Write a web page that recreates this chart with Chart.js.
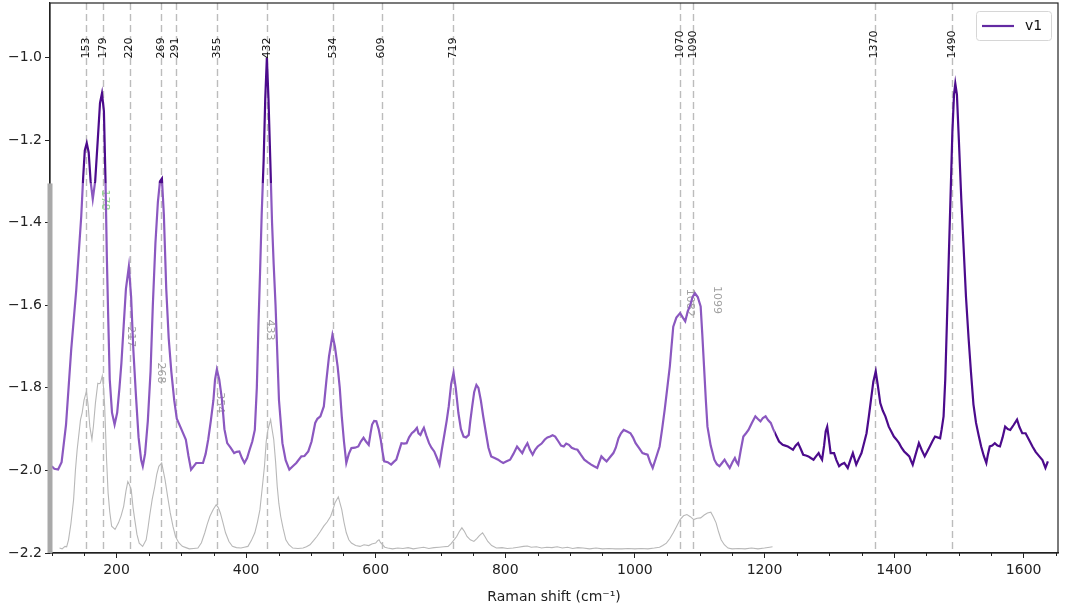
<!DOCTYPE html>
<html>
<head>
<meta charset="utf-8">
<script src="https://cdn.jsdelivr.net/npm/chart.js@4.4.1/dist/chart.umd.min.js"></script>
<style>
  html, body { margin: 0; background: #fff; }
  #wrap { width: 1076px; height: 614px; }
</style>
</head>
<body>
<div id="wrap"><canvas id="chart"></canvas></div>
<script>
// measured spectrum v1 (Raman shift, intensity)
const shiftV1 = [
  100, 104, 109.8, 115.2, 122, 130, 137.8, 145.5, 148.5, 151, 154, 157, 160, 163.3, 167, 171, 174.5, 177.5, 180.5, 183,
  185, 187, 189.5, 193, 197, 201, 204.5, 207.5, 211, 214.5, 219, 222.5, 226, 230, 234, 238, 240.5, 244, 248.3, 252.5,
  256, 260, 263.8, 267, 270, 273, 276.7, 280.5, 284.5, 289, 293, 300, 306.9, 311, 315, 322.9, 333.4, 337.5, 341.5, 345.5,
  349.5, 352, 354.8, 358.5, 362.8, 366.5, 370.8, 376, 381.5, 385.5, 389.5, 393.5, 397.4, 401.5, 405.4, 409.5, 413.4, 416.5, 419, 421.5,
  424, 427, 429.5, 432, 434.5, 437.3, 440, 442.5, 445.4, 450.7, 456, 461, 466.7, 472, 477.4, 485.3, 490, 495.9, 501, 506.6,
  510, 514.6, 519.9, 524, 527.9, 533.2, 537, 541.2, 544.5, 547.6, 551, 554.6, 558.5, 562.5, 568, 573.1, 577, 581.2, 585, 589.2,
  592, 594.4, 597.5, 600.9, 604.5, 607.7, 610.5, 613.1, 618.5, 623.8, 627.5, 631.8, 635.5, 639.7, 643.5, 647.7, 651.5, 655.7, 659.5, 663.6,
  666, 669, 671.5, 674.3, 678, 682.3, 686, 690.3, 694.5, 698.4, 702, 706.3, 709.5, 712.7, 716.5, 720.1, 723.5, 727.6, 731.5, 735.6,
  739.5, 743.6, 746, 748.9, 752, 755.4, 758.5, 762.2, 766, 770.2, 774, 778.2, 783.5, 788.9, 792.5, 796.8, 802, 807.4, 812.5, 818.1,
  822, 826.2, 830, 834.1, 838, 842.2, 846, 850, 856, 861, 865, 869.2, 873, 877, 882, 886, 890.2, 894, 898.2, 902.5,
  907, 911.4, 916.5, 921.9, 927, 932.5, 937, 941.9, 945, 948.3, 952, 956.3, 961.5, 966.8, 970.5, 974.7, 978.5, 982.7, 988, 993.2,
  997, 1001.1, 1006, 1011.7, 1015.5, 1019.6, 1023.5, 1027.5, 1032.5, 1038.1, 1042, 1046, 1050, 1053.9, 1056.5, 1059.2, 1064, 1069.8, 1074, 1077.7,
  1081.5, 1085.6, 1089, 1092.7, 1097, 1101.5, 1104, 1106.7, 1109.5, 1112, 1117, 1122.6, 1126.5, 1130.5, 1134.5, 1138.4, 1142.5, 1146.3, 1150.5, 1154.3,
  1157, 1159.5, 1163.5, 1167.4, 1171.5, 1175.3, 1180.5, 1185.9, 1189.5, 1193.8, 1197.5, 1201.7, 1205.5, 1209.7, 1213.5, 1217.6, 1222.5, 1228.1, 1232, 1236.1,
  1240, 1244, 1248, 1251.9, 1256, 1259.8, 1264, 1267.8, 1271.5, 1275.7, 1279.5, 1283.6, 1286, 1288.9, 1292, 1294.5, 1296.8, 1299, 1302.1, 1307.4,
  1311, 1315.2, 1319, 1323.2, 1328.5, 1332.5, 1336.4, 1339, 1341.6, 1345.5, 1349.7, 1353.5, 1357.5, 1361, 1364.3, 1368, 1371.7, 1375, 1378.7, 1382.5,
  1386.6, 1391.8, 1395.5, 1399.7, 1403.5, 1407.7, 1411.5, 1415.6, 1419.5, 1423.5, 1426, 1428.8, 1433.5, 1438.3, 1442.5, 1447.3, 1451, 1455.2, 1459, 1463.2,
  1467, 1471.1, 1473.5, 1476.4, 1479, 1481.6, 1484.5, 1487, 1490, 1492.5, 1494.5, 1497, 1500, 1503.8, 1507, 1511, 1515, 1518.6, 1522.5, 1526.5,
  1530.5, 1534.4, 1538.5, 1542.4, 1545, 1547.7, 1551.5, 1555.5, 1559.5, 1563.4, 1567.5, 1571.4, 1575.5, 1579.3, 1584.5, 1589.8, 1593.5, 1597.8, 1603, 1608,
  1613.6, 1618.5, 1624.2, 1629, 1633.6, 1637.4
];
const intensityV1 = [
  -1.99, -1.996, -1.998, -1.98, -1.89, -1.708, -1.563, -1.385, -1.29, -1.225, -1.207, -1.23, -1.3, -1.343, -1.3, -1.2, -1.11, -1.087, -1.13, -1.3,
  -1.48, -1.62, -1.78, -1.86, -1.889, -1.86, -1.8, -1.74, -1.65, -1.56, -1.506, -1.58, -1.71, -1.82, -1.92, -1.975, -1.99, -1.96, -1.88, -1.76,
  -1.6, -1.45, -1.35, -1.3, -1.293, -1.38, -1.56, -1.68, -1.76, -1.83, -1.875, -1.9, -1.925, -1.965, -1.998, -1.982, -1.982, -1.96, -1.925, -1.88,
  -1.83, -1.78, -1.756, -1.78, -1.83, -1.9, -1.934, -1.945, -1.958, -1.955, -1.954, -1.97, -1.982, -1.97, -1.95, -1.93, -1.902, -1.8, -1.65, -1.52,
  -1.38, -1.25, -1.1, -1.0, -1.1, -1.25, -1.4, -1.5, -1.6, -1.83, -1.934, -1.975, -1.998, -1.99, -1.982, -1.966, -1.965, -1.954, -1.93, -1.885,
  -1.875, -1.869, -1.845, -1.78, -1.724, -1.672, -1.7, -1.748, -1.8, -1.869, -1.93, -1.982, -1.96, -1.946, -1.945, -1.942, -1.93, -1.921, -1.93, -1.938,
  -1.91, -1.889, -1.88, -1.881, -1.9, -1.925, -1.955, -1.978, -1.98, -1.986, -1.98, -1.974, -1.955, -1.934, -1.935, -1.934, -1.92, -1.91, -1.905, -1.897,
  -1.91, -1.914, -1.905, -1.897, -1.915, -1.934, -1.945, -1.954, -1.97, -1.986, -1.95, -1.91, -1.88, -1.845, -1.79, -1.764, -1.8, -1.861, -1.9, -1.918,
  -1.92, -1.914, -1.88, -1.845, -1.81, -1.793, -1.8, -1.83, -1.87, -1.91, -1.945, -1.966, -1.97, -1.974, -1.978, -1.982, -1.978, -1.974, -1.96, -1.942,
  -1.95, -1.958, -1.945, -1.934, -1.95, -1.962, -1.95, -1.942, -1.935, -1.925, -1.92, -1.918, -1.915, -1.918, -1.93, -1.94, -1.942, -1.935, -1.938, -1.945,
  -1.948, -1.95, -1.962, -1.974, -1.98, -1.986, -1.99, -1.994, -1.98, -1.966, -1.972, -1.978, -1.968, -1.958, -1.945, -1.922, -1.91, -1.902, -1.906, -1.91,
  -1.92, -1.934, -1.945, -1.958, -1.96, -1.962, -1.98, -1.994, -1.97, -1.942, -1.9, -1.853, -1.8, -1.748, -1.7, -1.652, -1.63, -1.619, -1.63, -1.639,
  -1.615, -1.599, -1.58, -1.571, -1.58, -1.603, -1.67, -1.748, -1.83, -1.894, -1.94, -1.974, -1.985, -1.99, -1.982, -1.974, -1.985, -1.994, -1.98, -1.97,
  -1.98, -1.986, -1.95, -1.918, -1.91, -1.902, -1.885, -1.869, -1.875, -1.881, -1.873, -1.869, -1.878, -1.885, -1.9, -1.914, -1.93, -1.938, -1.94, -1.942,
  -1.946, -1.95, -1.94, -1.934, -1.948, -1.962, -1.964, -1.966, -1.97, -1.974, -1.966, -1.958, -1.966, -1.974, -1.94, -1.905, -1.894, -1.92, -1.958, -1.958,
  -1.975, -1.99, -1.985, -1.982, -1.994, -1.975, -1.958, -1.972, -1.986, -1.972, -1.958, -1.935, -1.91, -1.87, -1.83, -1.785, -1.76, -1.795, -1.837, -1.855,
  -1.869, -1.894, -1.905, -1.918, -1.925, -1.934, -1.945, -1.954, -1.96, -1.966, -1.976, -1.986, -1.96, -1.934, -1.95, -1.966, -1.955, -1.942, -1.93, -1.918,
  -1.92, -1.922, -1.9, -1.869, -1.78, -1.64, -1.48, -1.345, -1.18, -1.09, -1.063, -1.09, -1.2, -1.345, -1.45, -1.58, -1.68, -1.76, -1.84, -1.885,
  -1.915, -1.942, -1.965, -1.982, -1.96, -1.942, -1.94, -1.934, -1.94, -1.942, -1.92, -1.894, -1.9, -1.902, -1.89, -1.877, -1.895, -1.91, -1.91, -1.925,
  -1.942, -1.955, -1.966, -1.975, -1.994, -1.978
];

// reference spectrum (grey, ends at ~1212)
const shiftRef = [
  112, 116, 120.5, 123, 125.9, 129.5, 133.7, 136.5, 139.2, 144.4, 147, 149.8, 153.5, 156, 158.8, 162, 164.5, 167.4, 171.1, 173,
  174.8, 176.5, 178, 180, 181.7, 184.5, 187, 189.5, 192.4, 197.7, 203, 207, 211, 214.5, 217.4, 220, 222.7, 225.5, 228.1, 231.5,
  235, 240.3, 245.7, 248.5, 251, 255, 259, 262, 265.3, 269.7, 272, 274.9, 279, 282.9, 287, 291, 296, 301.6, 307, 312.3,
  319, 325.6, 331, 336.2, 340, 344.1, 349, 353.8, 357, 360.2, 364, 368.2, 373.5, 378.8, 385, 392.1, 397, 402.8, 408, 413.4,
  417.5, 421.3, 425, 428.3, 431, 433.6, 437.8, 440, 442.6, 445.5, 448, 450.5, 453.3, 457, 461.3, 466, 472, 480, 487.9, 493,
  498.5, 504, 509.2, 514.5, 519.8, 525, 530.5, 534, 537, 542.3, 545, 547.6, 551, 554.6, 558.5, 562.5, 569, 575.8, 582, 589.2,
  594, 599.9, 603, 605.1, 607.5, 610.5, 614, 618.4, 626, 634, 642, 650, 658, 666, 674, 682, 690, 698, 705, 711.7,
  716, 720, 725, 729, 733, 737, 740.9, 746, 751.5, 756, 760, 764.9, 768.5, 773, 779, 786.2, 795, 803, 812, 820,
  828, 834.1, 840, 848, 856, 864, 872, 880, 888, 896, 904, 912, 920, 930, 940, 950, 960, 970, 980, 990,
  1000, 1010, 1020, 1030, 1038, 1043, 1048.6, 1054, 1059.2, 1064.5, 1069.8, 1075, 1080.3, 1085.5, 1090.8, 1096, 1101.5, 1107, 1112, 1117.2,
  1121, 1125.3, 1129, 1133.1, 1138, 1143.7, 1150, 1160, 1170, 1180, 1190, 1200, 1208, 1212.4
];
const intensityRef = [
  -2.188, -2.19, -2.184, -2.185, -2.168, -2.13, -2.071, -2.0, -1.95, -1.877, -1.86, -1.83, -1.809, -1.84, -1.894, -1.925, -1.89, -1.837, -1.789, -1.79,
  -1.789, -1.78, -1.771, -1.8, -1.845, -1.97, -2.055, -2.1, -2.135, -2.143, -2.127, -2.11, -2.087, -2.05, -2.027, -2.035, -2.047, -2.09, -2.119, -2.155,
  -2.176, -2.184, -2.168, -2.14, -2.111, -2.07, -2.039, -2.01, -1.99, -1.982, -2.0, -2.023, -2.065, -2.103, -2.135, -2.16, -2.175, -2.184, -2.187, -2.19,
  -2.189, -2.188, -2.175, -2.151, -2.13, -2.111, -2.095, -2.083, -2.09, -2.103, -2.125, -2.151, -2.172, -2.184, -2.187, -2.188, -2.186, -2.184, -2.17, -2.151,
  -2.125, -2.095, -2.04, -1.99, -1.93, -1.902, -1.877, -1.9, -1.925, -1.98, -2.039, -2.08, -2.111, -2.14, -2.168, -2.18, -2.188, -2.189, -2.188, -2.185,
  -2.18, -2.17, -2.16, -2.148, -2.135, -2.125, -2.111, -2.095, -2.079, -2.064, -2.08, -2.095, -2.125, -2.151, -2.168, -2.176, -2.182, -2.184, -2.18, -2.182,
  -2.178, -2.176, -2.17, -2.168, -2.175, -2.18, -2.186, -2.188, -2.19, -2.188, -2.189, -2.187, -2.19, -2.188, -2.186, -2.189, -2.187, -2.186, -2.185, -2.184,
  -2.178, -2.17, -2.16, -2.148, -2.139, -2.148, -2.16, -2.168, -2.172, -2.165, -2.158, -2.151, -2.16, -2.172, -2.182, -2.188, -2.187, -2.189, -2.188, -2.186,
  -2.184, -2.183, -2.186, -2.185, -2.188, -2.186, -2.187, -2.185, -2.188, -2.186, -2.189, -2.187, -2.188, -2.19, -2.188, -2.19, -2.189, -2.19, -2.19, -2.189,
  -2.19, -2.189, -2.19, -2.188, -2.186, -2.182, -2.176, -2.165, -2.151, -2.135, -2.119, -2.11, -2.107, -2.112, -2.119, -2.116, -2.115, -2.108, -2.103, -2.101,
  -2.112, -2.127, -2.148, -2.168, -2.18, -2.188, -2.19, -2.189, -2.19, -2.188, -2.19, -2.188, -2.186, -2.185
];

// marked peaks (dashed lines + labels on top)
const peakMarks = [153, 179, 220, 269, 291, 355, 432, 534, 609, 719, 1070, 1090, 1370, 1490];
// grey labels of the reference spectrum
const refPeakText = ['178', '217', '268', '354', '433', '1082', '1099'];
const refPeakX = [181.5, 222.7, 269, 359, 436, 1085, 1126];
const refPeakY = [-1.345, -1.676, -1.764, -1.836, -1.66, -1.594, -1.587];

const xTicks = [200, 400, 600, 800, 1000, 1200, 1400, 1600];
const yTicks = [-2.2, -2.0, -1.8, -1.6, -1.4, -1.2, -1.0];

const DARK = '#4c0b8c';
const LIGHT = '#8b58c0';
const FONT = "'DejaVu Sans', sans-serif";
const overlay = { xMax: 1216, yMax: -1.305 };

const toPts = (xs, ys) => xs.map((x, i) => ({ x: x, y: ys[i] }));

function overlayRect(chart) {
  const a = chart.chartArea, sx = chart.scales.x, sy = chart.scales.y;
  const top = sy.getPixelForValue(overlay.yMax);
  const right = sx.getPixelForValue(overlay.xMax);
  return { left: a.left, top: top, w: right - a.left, h: a.bottom - top };
}

const decor = {
  id: 'decor',
  beforeDatasetsDraw(chart) {
    const ctx = chart.ctx, a = chart.chartArea, sx = chart.scales.x, sy = chart.scales.y;
    ctx.save();
    // dashed peak lines
    ctx.strokeStyle = '#bcbcbc';
    ctx.lineWidth = 1.4;
    ctx.setLineDash([7, 4]);
    peakMarks.forEach(p => {
      const px = Math.round(sx.getPixelForValue(p)) + 0.5;
      ctx.beginPath();
      ctx.moveTo(px, a.top);
      ctx.lineTo(px, a.bottom);
      ctx.stroke();
    });
    ctx.setLineDash([]);
    // grey reference labels
    ctx.font = '11px ' + FONT;
    ctx.textAlign = 'center';
    ctx.textBaseline = 'middle';
    refPeakText.forEach((t, i) => {
      ctx.save();
      ctx.translate(sx.getPixelForValue(refPeakX[i]), sy.getPixelForValue(refPeakY[i]));
      ctx.rotate(Math.PI / 2);
      ctx.fillStyle = i === 0 ? '#8fd48f' : '#a0a0a0';
      ctx.fillText(t, 0, 0);
      ctx.restore();
    });
    ctx.restore();
  },
  beforeDatasetDraw(chart, args) {
    if (args.index > 1) return;
    const ctx = chart.ctx, r = overlayRect(chart);
    ctx.save();
    ctx.beginPath();
    if (args.index === 0) {
      ctx.rect(0, 0, chart.width, chart.height);
      ctx.rect(r.left - 5, r.top, r.w + 5, r.h + 10);
      ctx.clip('evenodd');
    } else {
      ctx.rect(r.left - 5, r.top, r.w + 5, r.h + 10);
      ctx.clip();
    }
  },
  afterDatasetDraw(chart, args) {
    if (args.index > 1) return;
    chart.ctx.restore();
  },
  afterDatasetsDraw(chart) {
    const ctx = chart.ctx, a = chart.chartArea, sx = chart.scales.x, sy = chart.scales.y;
    ctx.save();
    // top peak labels
    ctx.font = '11px ' + FONT;
    ctx.fillStyle = '#111';
    ctx.textAlign = 'left';
    ctx.textBaseline = 'middle';
    const base = sy.getPixelForValue(-1.0) + 1;
    peakMarks.forEach(p => {
      ctx.save();
      ctx.translate(sx.getPixelForValue(p), base);
      ctx.rotate(-Math.PI / 2);
      ctx.fillText(String(p), 0, 0);
      ctx.restore();
    });
    // frame
    ctx.strokeStyle = '#222';
    ctx.lineWidth = 1.2;
    ctx.strokeRect(a.left, a.top, a.right - a.left, a.bottom - a.top);
    // grey strip on the left spine
    const r = overlayRect(chart);
    ctx.fillStyle = '#a9a9a9';
    ctx.fillRect(a.left - 2.5, r.top, 5, a.bottom - r.top);
    // minor x ticks
    ctx.strokeStyle = '#222';
    ctx.lineWidth = 1;
    for (let v = 100; v <= 1650; v += 50) {
      if (xTicks.includes(v)) continue;
      const px = Math.round(sx.getPixelForValue(v)) + 0.5;
      ctx.beginPath();
      ctx.moveTo(px, a.bottom);
      ctx.lineTo(px, a.bottom + 3);
      ctx.stroke();
    }
    // legend
    const ds = chart.data.datasets[0];
    const lx = a.right - 82, ly = a.top + 8, lw = 75, lh = 29;
    ctx.fillStyle = 'rgba(255,255,255,0.85)';
    ctx.strokeStyle = '#d6d6d6';
    ctx.lineWidth = 1;
    ctx.beginPath();
    ctx.roundRect(lx + 0.5, ly + 0.5, lw, lh, 3);
    ctx.fill();
    ctx.stroke();
    ctx.strokeStyle = '#632aa2';
    ctx.lineWidth = 2.2;
    ctx.beginPath();
    ctx.moveTo(lx + 6, ly + lh / 2 + 0.5);
    ctx.lineTo(lx + 38, ly + lh / 2 + 0.5);
    ctx.stroke();
    ctx.fillStyle = '#111';
    ctx.font = '14px ' + FONT;
    ctx.textAlign = 'left';
    ctx.textBaseline = 'middle';
    ctx.fillText(ds.label, lx + 49, ly + lh / 2 + 1);
    ctx.restore();
  }
};

const v1Points = toPts(shiftV1, intensityV1);

new Chart(document.getElementById('chart'), {
  type: 'line',
  data: {
    datasets: [
      { label: 'v1', data: v1Points, borderColor: DARK, borderWidth: 2.2, pointRadius: 0, tension: 0 },
      { label: 'v1 (ref overlay)', data: v1Points, borderColor: LIGHT, borderWidth: 2.2, pointRadius: 0, tension: 0 },
      { label: 'reference', data: toPts(shiftRef, intensityRef), borderColor: '#b8b8b8', borderWidth: 1.1, pointRadius: 0, tension: 0 }
    ]
  },
  options: {
    responsive: true,
    maintainAspectRatio: false,
    animation: false,
    layout: { padding: { top: 3, right: 18, left: 0, bottom: 0 } },
    plugins: { legend: { display: false }, tooltip: { enabled: false } },
    scales: {
      x: {
        type: 'linear',
        min: 97.3,
        max: 1653,
        afterBuildTicks: s => { s.ticks = xTicks.map(v => ({ value: v })); },
        afterFit: s => { s.height = 61; s.paddingLeft = 0; s.paddingRight = 0; },
        ticks: { callback: v => String(v), color: '#222', font: { family: FONT, size: 14 }, padding: 4, maxRotation: 0 },
        grid: { drawOnChartArea: false, drawTicks: true, tickLength: 5, tickColor: '#222' },
        border: { display: true, color: '#222', width: 1.2 },
        title: { display: true, text: 'Raman shift (cm\u207B\u00B9)', color: '#222', font: { family: FONT, size: 14 }, padding: { top: 9, bottom: 8 } }
      },
      y: {
        min: -2.2,
        max: -0.868,
        afterBuildTicks: s => { s.ticks = yTicks.map(v => ({ value: v })); },
        afterFit: s => { s.width = 50; s.paddingTop = 0; s.paddingBottom = 0; },
        ticks: {
          callback: v => (v < 0 ? '\u2212' : '') + Math.abs(v).toFixed(1),
          color: '#222', font: { family: FONT, size: 14 }, padding: 3
        },
        grid: { drawOnChartArea: false, drawTicks: true, tickLength: 5, tickColor: '#222' },
        border: { display: true, color: '#222', width: 1.2 }
      }
    }
  },
  plugins: [decor]
});
</script>
</body>
</html>
